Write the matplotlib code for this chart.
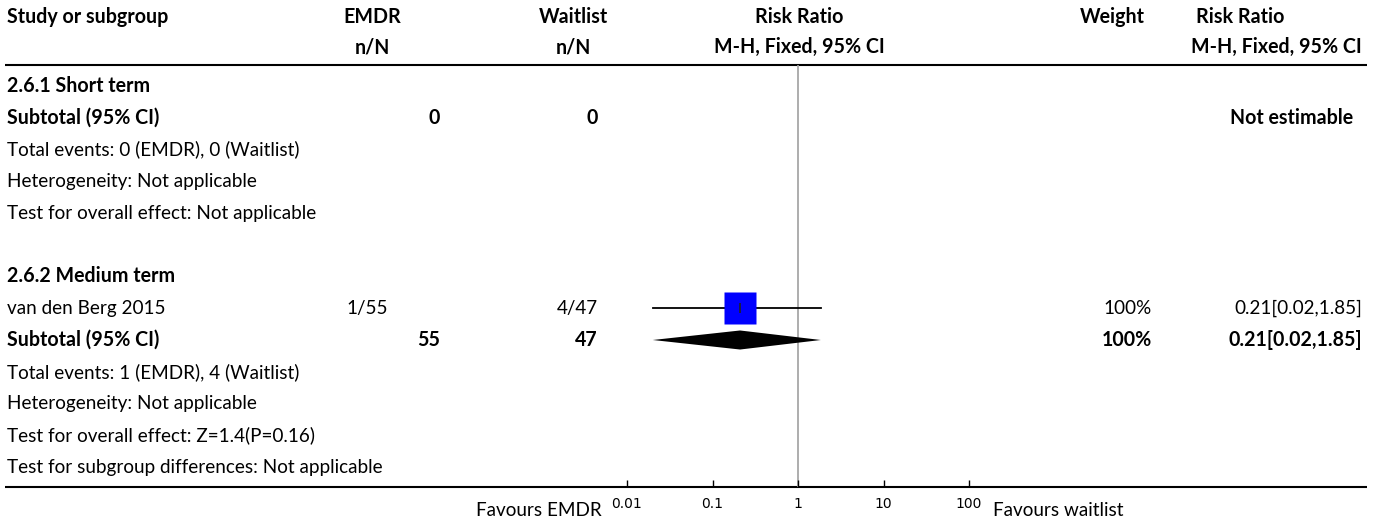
import matplotlib
matplotlib.use("Agg")
import matplotlib.pyplot as plt

plt.rcParams['font.family'] = ['Lato', 'DejaVu Sans']

W, H = 1375, 517
FS = 13.6      # regular text
FSB = 14.1     # bold text

# ---- data ----
header_top = ["Study or subgroup", "EMDR", "Waitlist", "Risk Ratio", "Weight", "Risk Ratio"]
header_sub = ["", "n/N", "n/N", "M-H, Fixed, 95% CI", "", "M-H, Fixed, 95% CI"]

row_labels = [
    "2.6.1 Short term",
    "Subtotal (95% CI)",
    "Total events: 0 (EMDR), 0 (Waitlist)",
    "Heterogeneity: Not applicable",
    "Test for overall effect: Not applicable",
    "",
    "2.6.2 Medium term",
    "van den Berg 2015",
    "Subtotal (95% CI)",
    "Total events: 1 (EMDR), 4 (Waitlist)",
    "Heterogeneity: Not applicable",
    "Test for overall effect: Z=1.4(P=0.16)",
    "Test for subgroup differences: Not applicable",
]
row_bold = [True, True, False, False, False, False, True, False, True,
            False, False, False, False]

# study-level results
study_names = ["van den Berg 2015"]
emdr_events = [1]
emdr_totals = [55]
wait_events = [4]
wait_totals = [47]
study_rr = [0.21]
study_lo = [0.02]
study_hi = [1.85]
study_weight = [100]

# subgroup totals (short term, medium term)
sub_emdr_n = [0, 55]
sub_wait_n = [0, 47]
sub_rr = [None, 0.21]
sub_lo = [None, 0.02]
sub_hi = [None, 1.85]
sub_weight = [None, 100]

xticks = [0.01, 0.1, 1, 10, 100]
xtick_labels = ["0.01", "0.1", "1", "10", "100"]
favours_left = "Favours EMDR"
favours_right = "Favours waitlist"

# ---- layout ----
ROW0, ROWSTEP = 86, 31.75
LINE_TOP, LINE_BOT = 64.5, 487
X_STUDY = 7
X_EMDR_HDR, X_WAIT_HDR = 372, 573
X_EMDR_VAL, X_EMDR_SUB = 388, 440
X_WAIT_VAL = 598
X_WEIGHT_HDR, X_WEIGHT_VAL = 1112, 1152
X_RR_HDR, X_RR_VAL = 1240, 1362
PLOT_L, PLOT_R = 627, 969


def row_y(i):
    return ROW0 + ROWSTEP * i


def bold(x, y, s, ha):
    tax.text(x, y, s, ha=ha, va="center", fontsize=FSB, fontweight="bold")


def plain(x, y, s, ha):
    tax.text(x, y, s, ha=ha, va="center", fontsize=FS)


fig = plt.figure(figsize=(W / 100, H / 100), dpi=100)
tax = fig.add_axes([0, 0, 1, 1])
tax.set_xlim(0, W)
tax.set_ylim(H, 0)
tax.axis("off")

# header
for y, labels in ((17, header_top), (47, header_sub)):
    bold(X_STUDY, y, labels[0], "left")
    bold(X_EMDR_HDR, y, labels[1], "center")
    bold(X_WAIT_HDR, y, labels[2], "center")
    bold((PLOT_L + PLOT_R) / 2 + 1, y, labels[3], "center")
    bold(X_WEIGHT_HDR, y, labels[4], "center")
bold(X_RR_HDR, 17, header_top[5], "center")
bold(X_RR_VAL, 47, header_sub[5], "right")

tax.plot([5, 1367], [LINE_TOP, LINE_TOP], color="black", lw=1.5, solid_capstyle="butt")
tax.plot([5, 1367], [LINE_BOT, LINE_BOT], color="black", lw=1.5, solid_capstyle="butt")

# row labels
for i, (lab, b) in enumerate(zip(row_labels, row_bold)):
    if lab:
        (bold if b else plain)(X_STUDY, row_y(i), lab, "left")

# subgroup subtotal rows
sub_rows = [1, 8]
for k, r in enumerate(sub_rows):
    y = row_y(r)
    bold(X_EMDR_SUB, y, f"{sub_emdr_n[k]}", "right")
    bold(X_WAIT_VAL, y, f"{sub_wait_n[k]}", "right")
    if sub_rr[k] is None:
        bold(1353, y, "Not estimable", "right")
    else:
        bold(X_WEIGHT_VAL, y, f"{sub_weight[k]}%", "right")
        bold(X_RR_VAL, y, f"{sub_rr[k]:.2f}[{sub_lo[k]:.2f},{sub_hi[k]:.2f}]", "right")

# study rows
study_rows = [7]
for k, r in enumerate(study_rows):
    y = row_y(r)
    plain(X_EMDR_VAL, y, f"{emdr_events[k]}/{emdr_totals[k]}", "right")
    plain(X_WAIT_VAL, y, f"{wait_events[k]}/{wait_totals[k]}", "right")
    plain(X_WEIGHT_VAL, y, f"{study_weight[k]}%", "right")
    plain(X_RR_VAL, y, f"{study_rr[k]:.2f}[{study_lo[k]:.2f},{study_hi[k]:.2f}]", "right")

# ---- forest plot ----
ax = fig.add_axes([PLOT_L / W, (H - LINE_BOT) / H, (PLOT_R - PLOT_L) / W, (LINE_BOT - LINE_TOP) / H])
ax.patch.set_alpha(0)
ax.set_xscale("log")
ax.set_xlim(xticks[0], xticks[-1])
ax.set_ylim((LINE_BOT - ROW0) / ROWSTEP, (LINE_TOP - ROW0) / ROWSTEP)
for s in ax.spines.values():
    s.set_visible(False)
ax.set_xticks(xticks)
ax.set_xticklabels(xtick_labels, family="DejaVu Sans", fontsize=10)
ax.minorticks_off()
ax.tick_params(axis="x", direction="in", length=5, width=1, pad=7)
ax.set_yticks([])
ax.axvline(1, color="#a0a0a0", lw=1.2, zorder=1)

for k, r in enumerate(study_rows):
    ax.plot([study_lo[k], study_hi[k]], [r, r], color="black", lw=1.3, zorder=2, clip_on=False)
    ax.plot(study_rr[k], r, marker="s", ms=22.5, color="#0000ff", mec="none", zorder=3)
    ax.plot(study_rr[k], r, marker="|", ms=7, mew=1.2, color="#222222", zorder=4)

for k, r in enumerate(sub_rows):
    if sub_rr[k] is not None:
        ax.fill([sub_lo[k], sub_rr[k], sub_hi[k], sub_rr[k]],
                [r, r - 0.3, r, r + 0.3], color="black", lw=0, zorder=3)

plain(602, 511, favours_left, "right")
plain(993, 511, favours_right, "left")

fig.savefig("out.png", dpi=100)
